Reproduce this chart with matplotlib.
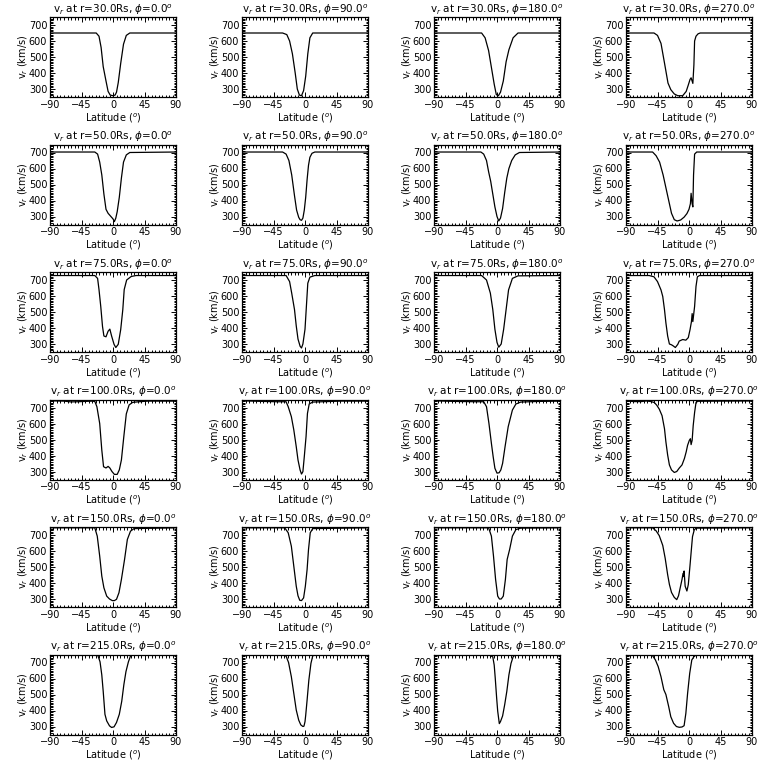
import matplotlib
matplotlib.use("Agg")
import matplotlib.pyplot as plt
from matplotlib.ticker import MultipleLocator

radii = [30.0, 50.0, 75.0, 100.0, 150.0, 215.0]
phis = [0.0, 90.0, 180.0, 270.0]
x_ticks = [-90, -45, 0, 45, 90]
y_ticks = [300, 400, 500, 600, 700]

# r = 30 Rs
lat_r30_p0 = [-90, -24, -20, -17, -14, -10, -7, -4, 0, 3, 5, 7.5, 11, 15, 19, 24, 90]
v_r30_p0 = [650, 650, 630, 560, 440, 350, 285, 262, 258, 262, 280, 340, 460, 580, 635, 650, 650]
lat_r30_p90 = [-90, -32, -26, -22, -18, -14, -11, -8, -5, -2, 1, 4, 7, 11, 90]
v_r30_p90 = [650, 650, 640, 600, 520, 400, 300, 262, 258, 290, 380, 520, 620, 650, 650]
lat_r30_p180 = [-90, -22, -17, -12, -8, -4, -1, 2, 5, 9, 13, 17, 23, 30, 90]
v_r30_p180 = [650, 650, 620, 540, 435, 330, 265, 258, 280, 350, 470, 545, 620, 650, 650]
lat_r30_p270 = [-90, -50, -45, -40, -35, -30, -26, -21, -16, -9, -4, -1, 1.5, 3, 5.5, 7, 8, 10, 13, 16, 90]
v_r30_p270 = [650, 650, 635, 585, 462, 337, 296, 269, 258, 258, 285, 325, 360, 370, 335, 450, 600, 630, 645, 650, 650]

# r = 50 Rs
lat_r50_p0 = [-90, -26, -22, -19, -16, -13, -10, -7, -3, 0, 2, 4, 6, 9, 12, 15, 19, 24, 90]
v_r50_p0 = [703, 703, 690, 640, 560, 440, 345, 320, 300, 285, 268, 290, 330, 420, 540, 640, 685, 700, 703]
lat_r50_p90 = [-90, -32, -27, -23, -19, -15, -12, -9, -7, -5, -3, -1, 1, 3, 5, 7, 10, 14, 90]
v_r50_p90 = [703, 703, 690, 650, 560, 430, 340, 295, 280, 276, 290, 340, 420, 530, 620, 670, 695, 703, 703]
lat_r50_p180 = [-90, -23, -19, -15, -12, -9, -6, -3, 0, 2.5, 5, 8, 11, 14, 17, 21, 26, 32, 90]
v_r50_p180 = [703, 703, 690, 650, 580, 520, 440, 360, 300, 272, 290, 350, 450, 540, 600, 650, 685, 700, 703]
lat_r50_p270 = [-90, -52, -47, -42, -37, -33, -29, -25, -21, -17, -12, -7, -3, 0, 2, 3, 4.5, 5.5, 6.5, 8, 11, 90]
v_r50_p270 = [703, 703, 680, 640, 560, 480, 400, 320, 280, 272, 278, 296, 318, 345, 380, 445, 380, 360, 560, 690, 703, 703]

# r = 75 Rs
lat_r75_p0 = [-90, -26, -22, -20, -17.5, -15, -13, -10, -7, -4.5, -2, 1.5, 4, 7.5, 11, 14, 16, 19.5, 26, 33, 90]
v_r75_p0 = [728, 728, 710, 640, 535, 410, 350, 345, 380, 393, 350, 298, 278, 298, 390, 515, 640, 700, 722, 728, 728]
lat_r75_p90 = [-90, -27, -22, -19, -15, -12.5, -10, -7, -5, -3, 0, 2, 4, 7, 14, 90]
v_r75_p90 = [728, 728, 690, 618, 515, 413, 331, 286, 275, 300, 392, 536, 680, 718, 728, 728]
lat_r75_p180 = [-90, -22, -15, -9.5, -6, -3, 0, 2.5, 6, 9.5, 13, 16.5, 22, 30, 90]
v_r75_p180 = [728, 728, 700, 618, 515, 392, 310, 280, 300, 392, 515, 638, 710, 726, 728]
lat_r75_p270 = [-90, -57, -50, -45, -40, -37.5, -35, -33, -30.5, -28, -25, -22.5, -19.5, -16, -14, -9, -4.5, -1, 1.5, 3.5,
                4.5, 5.5, 8, 10, 12, 15, 90]
v_r75_p270 = [728, 728, 720, 690, 638, 597, 514, 432, 350, 300, 295, 288, 278, 298, 318, 328, 324, 340, 390, 440,
              490, 440, 535, 660, 720, 728, 728]

# r = 100 Rs
lat_r100_p0 = [-90, -70, -60, -50, -40, -30, -26, -23, -19, -16, -13.5, -10, -7, -4.5, -1.5, 2, 6, 9, 12, 15.5, 19, 23,
               28, 37, 50, 90]
v_r100_p0 = [742, 740, 735, 736, 738, 740, 738, 705, 600, 434, 330, 322, 332, 322, 300, 282, 282, 310, 372, 520, 660, 716,
             732, 736, 740, 740]
lat_r100_p90 = [-90, -60, -40, -27, -24, -19.5, -16, -12.5, -10, -7, -5, -3, -1, 1.5, 3.5, 6, 11, 25, 50, 90]
v_r100_p90 = [742, 738, 736, 736, 705, 643, 560, 455, 372, 309, 284, 299, 393, 518, 663, 722, 734, 736, 740, 740]
lat_r100_p180 = [-90, -60, -30, -19, -15, -11.5, -8, -5.5, -3, 0, 3, 5.5, 8, 11.5, 16, 22, 27, 34, 60, 90]
v_r100_p180 = [742, 738, 736, 736, 705, 600, 476, 393, 320, 290, 292, 310, 351, 455, 580, 684, 722, 734, 738, 740]
lat_r100_p270 = [-90, -78, -68, -61, -54, -49.5, -46, -42.5, -38.5, -35, -33, -30.5, -28, -25, -21, -17.5, -14, -10,
                 -6.5, -4, -2, 0.5, 2, 3, 4.5, 6, 8, 10, 12.5, 45, 90]
v_r100_p270 = [741, 737, 737, 741, 737, 731, 714, 690, 649, 567, 485, 403, 341, 310, 294, 300, 321, 341,
               382, 423, 464, 495, 505, 468, 495, 587, 669, 731, 739, 740, 741]

# r = 150 Rs
lat_r150_p0 = [-90, -26, -22.5, -19, -16, -13, -9, -5, -1, 2, 5, 8.5, 12, 16.5, 20.5, 25, 30, 90]
v_r150_p0 = [745, 745, 693, 568, 443, 370, 318, 300, 290, 290, 298, 339, 422, 547, 672, 724, 740, 745]
lat_r150_p90 = [-90, -29, -24, -19.5, -16, -12.5, -10, -7.5, -5, -2, 0.5, 3, 5, 7.5, 11, 90]
v_r150_p90 = [745, 745, 714, 630, 505, 380, 320, 292, 290, 307, 380, 484, 609, 714, 740, 745]
lat_r150_p180 = [-90, -12, -8, -5, -2, 1, 3.5, 6, 9, 12, 14.5, 18, 22, 27, 34, 90]
v_r150_p180 = [745, 745, 693, 568, 422, 318, 300, 300, 318, 422, 547, 609, 693, 734, 743, 745]
lat_r150_p270 = [-90, -52, -47, -42.5, -37.5, -34, -30.5, -28, -25, -21, -17.5, -15, -12.5, -10, -8.5, -7.5, -7, -5.5,
                 -3, -1, 1.5, 3.5, 5, 7.5, 10, 90]
v_r150_p270 = [745, 745, 726, 696, 635, 554, 452, 391, 341, 310, 296, 320, 371, 422, 460, 440, 475, 380,
               350, 390, 513, 615, 690, 732, 743, 745]

# r = 215 Rs
lat_r215_p0 = [-90, -22, -18.5, -16, -14, -11.5, -9, -5, -2, 1.5, 5, 9, 12.5, 15.5, 18.5, 22, 25, 28, 90]
v_r215_p0 = [749, 749, 704, 622, 520, 376, 335, 304, 294, 298, 325, 376, 458, 561, 643, 704, 741, 749, 749]
lat_r215_p90 = [-90, -31, -27, -23.5, -19.5, -16, -12.5, -9, -6, -3, -1.5, 0, 1, 3, 5.5, 8.5, 11, 13, 90]
v_r215_p90 = [749, 749, 740, 700, 611, 507, 403, 340, 310, 300, 302, 330, 370, 465, 590, 695, 740, 749, 749]
lat_r215_p180 = [-90, -14, -10, -6, -4, -2.5, -0.5, 1, 3.3, 5, 8, 11, 14, 17, 20, 23, 26, 90]
v_r215_p180 = [749, 749, 745, 735, 684, 602, 478, 396, 318, 331, 366, 437, 519, 622, 694, 735, 749, 749]
lat_r215_p270 = [-90, -53, -48, -44, -40, -36, -33, -29, -26, -22, -18, -14, -10, -7, -4.5, -2, 1, 4, 7, 10, 12, 90]
v_r215_p270 = [749, 749, 716, 674, 611, 530, 500, 424, 361, 320, 300, 295, 297, 305, 382, 507, 632, 716, 736, 747, 749, 749]

lats = [
    [lat_r30_p0, lat_r30_p90, lat_r30_p180, lat_r30_p270],
    [lat_r50_p0, lat_r50_p90, lat_r50_p180, lat_r50_p270],
    [lat_r75_p0, lat_r75_p90, lat_r75_p180, lat_r75_p270],
    [lat_r100_p0, lat_r100_p90, lat_r100_p180, lat_r100_p270],
    [lat_r150_p0, lat_r150_p90, lat_r150_p180, lat_r150_p270],
    [lat_r215_p0, lat_r215_p90, lat_r215_p180, lat_r215_p270],
]
vels = [
    [v_r30_p0, v_r30_p90, v_r30_p180, v_r30_p270],
    [v_r50_p0, v_r50_p90, v_r50_p180, v_r50_p270],
    [v_r75_p0, v_r75_p90, v_r75_p180, v_r75_p270],
    [v_r100_p0, v_r100_p90, v_r100_p180, v_r100_p270],
    [v_r150_p0, v_r150_p90, v_r150_p180, v_r150_p270],
    [v_r215_p0, v_r215_p90, v_r215_p180, v_r215_p270],
]

W = H = 768
fig = plt.figure(figsize=(7.68, 7.68), dpi=100)
fig.patch.set_facecolor("white")

fs = 7
for i, r in enumerate(radii):
    for j, ph in enumerate(phis):
        left = 50 + 192 * j
        top = 17 + 127.5 * i
        ax = fig.add_axes([left / W, 1 - (top + 80) / H, 126 / W, 80 / H])
        ax.plot(lats[i][j], vels[i][j], color="black", lw=0.9)
        ax.set_xlim(-90, 90)
        ax.set_ylim(250, 750)
        ax.set_xticks(x_ticks)
        ax.set_yticks(y_ticks)
        ax.xaxis.set_minor_locator(MultipleLocator(5))
        ax.yaxis.set_minor_locator(MultipleLocator(10))
        ax.tick_params(which="both", direction="in", top=True, right=True,
                       labelsize=fs, width=0.7, pad=2)
        ax.tick_params(which="major", length=3.5)
        ax.tick_params(which="minor", length=1.8)
        for s in ax.spines.values():
            s.set_linewidth(0.9)
        ax.set_title(r"v$_r$ at r=%.1fRs, $\phi$=%.1f$^o$" % (r, ph), fontsize=fs + 0.5, pad=3)
        ax.set_xlabel("Latitude ($^o$)", fontsize=fs, labelpad=1)
        ax.set_ylabel("v$_r$ (km/s)", fontsize=fs, labelpad=-1)

fig.savefig("out.png", dpi=100, facecolor="white")
